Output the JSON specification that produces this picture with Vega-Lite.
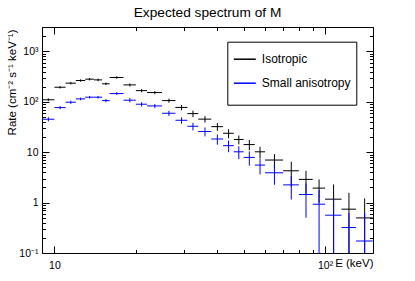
{
  "$schema": "https://vega.github.io/schema/vega-lite/v6.json",
  "width": 331,
  "height": 226,
  "autosize": {"type": "none"},
  "padding": {"left": 42, "top": 27, "right": 42, "bottom": 28},
  "background": "white",
  "title": {"text": "Expected spectrum of M", "font": "Liberation Sans", "fontSize": 13.7, "fontWeight": "normal", "color": "black", "anchor": "middle", "baseline": "alphabetic", "offset": 1, "dy": 9.5},
  "config": {
    "view": {"stroke": "black", "strokeWidth": 1},
    "axis": {"domain": false, "grid": false, "tickColor": "black", "tickWidth": 1, "labelColor": "black", "labelFont": "Liberation Sans", "labelFontSize": 10.5, "labelOverlap": false, "labelFlush": false, "labelBound": false, "titleFont": "Liberation Sans", "titleFontWeight": "normal", "titleColor": "black", "titleFontSize": 11.5}
  },
  "data": {"values": [
    {"s": "Isotropic", "E": 9.5, "Elo": 9, "Ehi": 10, "r": 110, "lo": 103, "hi": 117},
    {"s": "Isotropic", "E": 10.5, "Elo": 10, "Ehi": 11, "r": 195, "lo": 184, "hi": 206},
    {"s": "Isotropic", "E": 11.5, "Elo": 11, "Ehi": 12, "r": 235, "lo": 222, "hi": 248},
    {"s": "Isotropic", "E": 12.5, "Elo": 12, "Ehi": 13, "r": 265, "lo": 250, "hi": 280},
    {"s": "Isotropic", "E": 13.5, "Elo": 13, "Ehi": 14, "r": 282, "lo": 266, "hi": 298},
    {"s": "Isotropic", "E": 14.5, "Elo": 14, "Ehi": 15, "r": 273, "lo": 257.5, "hi": 288.5},
    {"s": "Isotropic", "E": 15.5, "Elo": 15, "Ehi": 16, "r": 228, "lo": 215, "hi": 241},
    {"s": "Isotropic", "E": 17, "Elo": 16, "Ehi": 18, "r": 304, "lo": 287, "hi": 321},
    {"s": "Isotropic", "E": 19, "Elo": 18, "Ehi": 20, "r": 217, "lo": 202, "hi": 232},
    {"s": "Isotropic", "E": 21, "Elo": 20, "Ehi": 22, "r": 167, "lo": 155, "hi": 179},
    {"s": "Isotropic", "E": 23.5, "Elo": 22, "Ehi": 25, "r": 153, "lo": 142, "hi": 164},
    {"s": "Isotropic", "E": 26.5, "Elo": 25, "Ehi": 28, "r": 106, "lo": 96, "hi": 116},
    {"s": "Isotropic", "E": 29.5, "Elo": 28, "Ehi": 31, "r": 77.5, "lo": 68.1, "hi": 86.9},
    {"s": "Isotropic", "E": 32.5, "Elo": 31, "Ehi": 34, "r": 58.4, "lo": 49.8, "hi": 67},
    {"s": "Isotropic", "E": 36, "Elo": 34, "Ehi": 38, "r": 45.4, "lo": 38.7, "hi": 52.1},
    {"s": "Isotropic", "E": 40, "Elo": 38, "Ehi": 42, "r": 32.2, "lo": 26.6, "hi": 37.8},
    {"s": "Isotropic", "E": 44, "Elo": 42, "Ehi": 46, "r": 23.8, "lo": 19, "hi": 28.6},
    {"s": "Isotropic", "E": 48, "Elo": 46, "Ehi": 50, "r": 17.9, "lo": 14.3, "hi": 21.5},
    {"s": "Isotropic", "E": 52.5, "Elo": 50, "Ehi": 55, "r": 14.2, "lo": 10.95, "hi": 17.45},
    {"s": "Isotropic", "E": 57.5, "Elo": 55, "Ehi": 60, "r": 10.2, "lo": 7.6, "hi": 12.8},
    {"s": "Isotropic", "E": 65, "Elo": 60, "Ehi": 70, "r": 7.0, "lo": 4.8, "hi": 9.2},
    {"s": "Isotropic", "E": 75, "Elo": 70, "Ehi": 80, "r": 4.28, "lo": 2.09, "hi": 6.47},
    {"s": "Isotropic", "E": 85, "Elo": 80, "Ehi": 90, "r": 2.89, "lo": 1.5, "hi": 4.28},
    {"s": "Isotropic", "E": 95, "Elo": 90, "Ehi": 100, "r": 1.94, "lo": 0.99, "hi": 2.89},
    {"s": "Isotropic", "E": 107.5, "Elo": 100, "Ehi": 115, "r": 1.17, "lo": 0.04, "hi": 2.3},
    {"s": "Isotropic", "E": 122.5, "Elo": 115, "Ehi": 130, "r": 0.741, "lo": 0.01, "hi": 1.56},
    {"s": "Isotropic", "E": 140, "Elo": 130, "Ehi": 150, "r": 0.497, "lo": 0.01, "hi": 1.21},
    {"s": "Small anisotropy", "E": 9.5, "Elo": 9, "Ehi": 10, "r": 45.2, "lo": 40.9, "hi": 49.5},
    {"s": "Small anisotropy", "E": 10.5, "Elo": 10, "Ehi": 11, "r": 76.9, "lo": 71.4, "hi": 82.4},
    {"s": "Small anisotropy", "E": 11.5, "Elo": 11, "Ehi": 12, "r": 98.4, "lo": 91.4, "hi": 105.4},
    {"s": "Small anisotropy", "E": 12.5, "Elo": 12, "Ehi": 13, "r": 114.5, "lo": 107.5, "hi": 121.5},
    {"s": "Small anisotropy", "E": 13.5, "Elo": 13, "Ehi": 14, "r": 123.7, "lo": 116.2, "hi": 131.2},
    {"s": "Small anisotropy", "E": 14.5, "Elo": 14, "Ehi": 15, "r": 123.7, "lo": 116.2, "hi": 131.2},
    {"s": "Small anisotropy", "E": 15.5, "Elo": 15, "Ehi": 16, "r": 105.9, "lo": 98.4, "hi": 113.4},
    {"s": "Small anisotropy", "E": 17, "Elo": 16, "Ehi": 18, "r": 146, "lo": 137, "hi": 155},
    {"s": "Small anisotropy", "E": 19, "Elo": 18, "Ehi": 20, "r": 107.8, "lo": 97.5, "hi": 118.1},
    {"s": "Small anisotropy", "E": 21, "Elo": 20, "Ehi": 22, "r": 89.8, "lo": 81.2, "hi": 98.4},
    {"s": "Small anisotropy", "E": 23.5, "Elo": 22, "Ehi": 25, "r": 83, "lo": 75, "hi": 91},
    {"s": "Small anisotropy", "E": 26.5, "Elo": 25, "Ehi": 28, "r": 59.4, "lo": 52.2, "hi": 66.6},
    {"s": "Small anisotropy", "E": 29.5, "Elo": 28, "Ehi": 31, "r": 43.1, "lo": 36.8, "hi": 49.4},
    {"s": "Small anisotropy", "E": 32.5, "Elo": 31, "Ehi": 34, "r": 32.8, "lo": 27.1, "hi": 38.5},
    {"s": "Small anisotropy", "E": 36, "Elo": 34, "Ehi": 38, "r": 25.8, "lo": 20.6, "hi": 31},
    {"s": "Small anisotropy", "E": 40, "Elo": 38, "Ehi": 42, "r": 18.3, "lo": 14.1, "hi": 22.5},
    {"s": "Small anisotropy", "E": 44, "Elo": 42, "Ehi": 46, "r": 13.5, "lo": 10, "hi": 17},
    {"s": "Small anisotropy", "E": 48, "Elo": 46, "Ehi": 50, "r": 10.2, "lo": 7.3, "hi": 13.1},
    {"s": "Small anisotropy", "E": 52.5, "Elo": 50, "Ehi": 55, "r": 7.9, "lo": 5.4, "hi": 10.4},
    {"s": "Small anisotropy", "E": 57.5, "Elo": 55, "Ehi": 60, "r": 5.56, "lo": 3.63, "hi": 7.49},
    {"s": "Small anisotropy", "E": 65, "Elo": 60, "Ehi": 70, "r": 3.91, "lo": 2.26, "hi": 5.56},
    {"s": "Small anisotropy", "E": 75, "Elo": 70, "Ehi": 80, "r": 2.25, "lo": 1.15, "hi": 3.35},
    {"s": "Small anisotropy", "E": 85, "Elo": 80, "Ehi": 90, "r": 1.45, "lo": 0.5, "hi": 2.4},
    {"s": "Small anisotropy", "E": 95, "Elo": 90, "Ehi": 100, "r": 0.93, "lo": 0.08, "hi": 1.78},
    {"s": "Small anisotropy", "E": 107.5, "Elo": 100, "Ehi": 115, "r": 0.563, "lo": 0.01, "hi": 1.17},
    {"s": "Small anisotropy", "E": 122.5, "Elo": 115, "Ehi": 130, "r": 0.32, "lo": 0.01, "hi": 0.617},
    {"s": "Small anisotropy", "E": 140, "Elo": 130, "Ehi": 150, "r": 0.173, "lo": 0.01, "hi": 0.617}
  ]},
  "resolve": {"axis": {"x": "independent", "y": "independent"}},
  "layer": [
    {
      "transform": [{"filter": "datum.s == 'Isotropic'"}],
      "mark": {"type": "rule", "strokeWidth": 1, "clip": true},
      "encoding": {
        "x": {"field": "Elo", "type": "quantitative", "scale": {"type": "log", "domain": [9, 150.3], "nice": false},
          "axis": {"orient": "bottom", "values": [10, 20, 30, 40, 50, 60, 70, 80, 90, 100],
            "tickSize": {"condition": {"test": "indexof([10, 100], datum.value) >= 0", "value": -7}, "value": -3.5},
            "labelPadding": 14,
            "labelExpr": "datum.value == 10 ? '10' : datum.value == 100 ? '10²' : ''",
            "title": "E (keV)", "titleX": 331, "titleY": 13, "titleAlign": "right", "titleBaseline": "alphabetic", "titleAnchor": "end"}},
        "x2": {"field": "Ehi"},
        "y": {"field": "r", "type": "quantitative", "scale": {"type": "log", "domain": [0.1, 3060], "nice": false},
          "axis": {"orient": "left", "values": [0.1, 0.2, 0.3, 0.4, 0.5, 0.6, 0.7, 0.8, 0.9, 1, 2, 3, 4, 5, 6, 7, 8, 9, 10, 20, 30, 40, 50, 60, 70, 80, 90, 100, 200, 300, 400, 500, 600, 700, 800, 900, 1000, 2000, 3000],
            "tickSize": {"condition": {"test": "indexof([0.1, 1, 10, 100, 1000], datum.value) >= 0", "value": -7}, "value": -3.5},
            "labelPadding": 11,
            "labelExpr": "datum.value == 0.1 ? '10⁻¹' : datum.value == 1 ? '1' : datum.value == 10 ? '10' : datum.value == 100 ? '10²' : datum.value == 1000 ? '10³' : ''",
            "title": "Rate (cm⁻² s⁻¹ keV⁻¹)", "titleX": -30, "titleY": 2, "titleAngle": 270, "titleAlign": "right", "titleBaseline": "middle"}},
        "color": {"field": "s", "type": "nominal", "scale": {"domain": ["Isotropic", "Small anisotropy"], "range": ["#000000", "#0000ff"]},
          "legend": {"orient": "none", "legendX": 185.3, "legendY": 14.7, "title": " ", "titleOrient": "bottom", "titleFontSize": 6, "titlePadding": 4, "strokeColor": "black", "fillColor": "white", "padding": 5.5, "cornerRadius": 0, "labelFont": "Liberation Sans", "labelFontSize": 12, "labelColor": "black", "symbolType": "stroke", "symbolSize": 484, "symbolStrokeWidth": 1.5, "labelOffset": 5, "rowPadding": 6}}
      }
    },
    {
      "transform": [{"filter": "datum.s == 'Isotropic'"}],
      "mark": {"type": "rule", "strokeWidth": 1, "clip": true},
      "encoding": {
        "x": {"field": "E", "type": "quantitative", "scale": {"type": "log", "domain": [9, 150.3], "nice": false},
          "axis": {"orient": "top", "values": [10, 20, 30, 40, 50, 60, 70, 80, 90, 100], "labels": false, "title": null,
            "tickSize": {"condition": {"test": "indexof([10, 100], datum.value) >= 0", "value": -7}, "value": -3.5}}},
        "y": {"field": "lo", "type": "quantitative", "scale": {"type": "log", "domain": [0.1, 3060], "nice": false},
          "axis": {"orient": "right", "values": [0.1, 0.2, 0.3, 0.4, 0.5, 0.6, 0.7, 0.8, 0.9, 1, 2, 3, 4, 5, 6, 7, 8, 9, 10, 20, 30, 40, 50, 60, 70, 80, 90, 100, 200, 300, 400, 500, 600, 700, 800, 900, 1000, 2000, 3000], "labels": false, "title": null,
            "tickSize": {"condition": {"test": "indexof([0.1, 1, 10, 100, 1000], datum.value) >= 0", "value": -7}, "value": -3.5}}},
        "y2": {"field": "hi"},
        "color": {"field": "s", "type": "nominal"}
      }
    },
    {
      "transform": [{"filter": "datum.s == 'Small anisotropy'"}],
      "mark": {"type": "rule", "strokeWidth": 1, "clip": true},
      "encoding": {
        "x": {"field": "Elo", "type": "quantitative", "axis": null},
        "x2": {"field": "Ehi"},
        "y": {"field": "r", "type": "quantitative", "axis": null},
        "color": {"field": "s", "type": "nominal"}
      }
    },
    {
      "transform": [{"filter": "datum.s == 'Small anisotropy'"}],
      "mark": {"type": "rule", "strokeWidth": 1, "clip": true},
      "encoding": {
        "x": {"field": "E", "type": "quantitative", "axis": null},
        "y": {"field": "lo", "type": "quantitative", "axis": null},
        "y2": {"field": "hi"},
        "color": {"field": "s", "type": "nominal"}
      }
    }
  ]
}
